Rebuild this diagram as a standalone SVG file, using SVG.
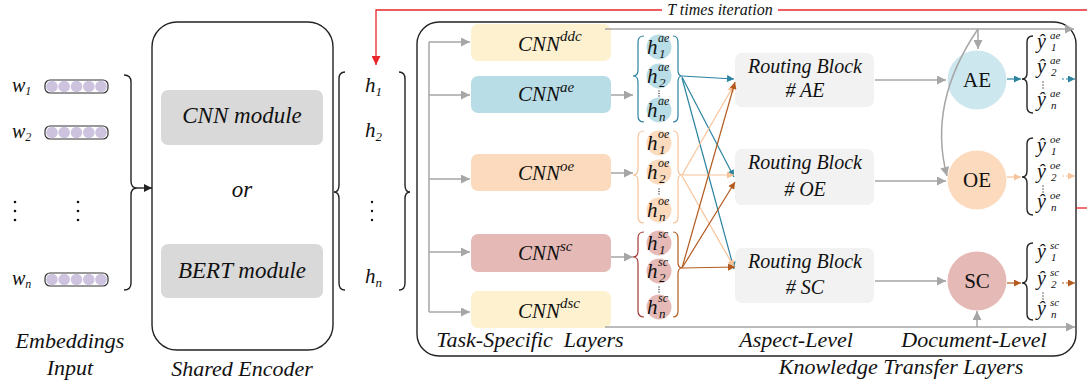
<svg xmlns="http://www.w3.org/2000/svg" width="1087" height="388" viewBox="0 0 1087 388">
<style>
.it{font-family:"Liberation Serif","Times New Roman",Times,"DejaVu Serif","Noto Serif",serif;font-style:italic;fill:#111}
.rm{font-family:"Liberation Serif","Times New Roman",Times,"DejaVu Serif","Noto Serif",serif;fill:#111}
.g{stroke:#a6a6a6;stroke-width:1.5;fill:none}
.tl{stroke:#2b83a0;stroke-width:1.2;fill:none}
.pc{stroke:#f7c39a;stroke-width:1.2;fill:none}
.br{stroke:#b35a1f;stroke-width:1.2;fill:none}
.blk{stroke:#222;stroke-width:1.4;fill:none}
.vec{fill:#fff;stroke:#333;stroke-width:1.2}
.dot{fill:#cdc3df}
.ys{font-size:11px}
</style>
<defs>
<marker id="ag" viewBox="0 0 10 10" refX="10" refY="5" markerWidth="11" markerHeight="9" markerUnits="userSpaceOnUse" orient="auto"><path d="M0,0 L10,5 L0,10 z" fill="#a6a6a6"/></marker>
<marker id="at" viewBox="0 0 10 10" refX="10" refY="5" markerWidth="8" markerHeight="7" markerUnits="userSpaceOnUse" orient="auto"><path d="M0,0 L10,5 L0,10 z" fill="#2b83a0"/></marker>
<marker id="ap" viewBox="0 0 10 10" refX="10" refY="5" markerWidth="8" markerHeight="7" markerUnits="userSpaceOnUse" orient="auto"><path d="M0,0 L10,5 L0,10 z" fill="#f7c39a"/></marker>
<marker id="ab" viewBox="0 0 10 10" refX="10" refY="5" markerWidth="8" markerHeight="7" markerUnits="userSpaceOnUse" orient="auto"><path d="M0,0 L10,5 L0,10 z" fill="#b35a1f"/></marker>
<marker id="ar" viewBox="0 0 10 10" refX="10" refY="5" markerWidth="9" markerHeight="9" markerUnits="userSpaceOnUse" orient="auto"><path d="M0,0 L10,5 L0,10 z" fill="#e8262a"/></marker>
<marker id="ak" viewBox="0 0 10 10" refX="10" refY="5" markerWidth="9" markerHeight="8" markerUnits="userSpaceOnUse" orient="auto"><path d="M0,0 L10,5 L0,10 z" fill="#222"/></marker>
<g id="vecdef">
<rect class="vec" x="0" y="0" width="63" height="13" rx="5"/>
<circle class="dot" cx="7" cy="6.5" r="5.8"/><circle class="dot" cx="19.2" cy="6.5" r="5.8"/><circle class="dot" cx="31.5" cy="6.5" r="5.8"/><circle class="dot" cx="43.8" cy="6.5" r="5.8"/><circle class="dot" cx="56" cy="6.5" r="5.8"/>
</g>
</defs>
<rect width="1087" height="388" fill="#fff"/>

<g id="embeddings">
<text class="it" x="12" y="92" font-size="20">w<tspan font-size="12" dy="3">1</tspan></text>
<text class="it" x="12" y="138" font-size="20">w<tspan font-size="12" dy="3">2</tspan></text>
<text class="it" x="12" y="285" font-size="20">w<tspan font-size="12" dy="3">n</tspan></text>
<use href="#vecdef" x="45" y="80"/>
<use href="#vecdef" x="45" y="126"/>
<use href="#vecdef" x="45" y="273"/>
<g fill="#111"><circle cx="15" cy="202" r="1.3"/><circle cx="15" cy="211" r="1.3"/><circle cx="15" cy="220" r="1.3"/>
<circle cx="78" cy="202" r="1.3"/><circle cx="78" cy="211" r="1.3"/><circle cx="78" cy="220" r="1.3"/></g>
<path class="blk" d="M124,75 Q131,75 131,82 L131,181 Q131,188 137,188 Q131,188 131,195 L131,283 Q131,290 124,290"/>
<text class="it" x="70" y="348" font-size="22" text-anchor="middle">Embeddings</text>
<text class="it" x="70" y="375" font-size="22" text-anchor="middle">Input</text>
</g>

<g id="shared-encoder">
<rect x="152" y="22" width="181" height="328" rx="25" fill="none" stroke="#222" stroke-width="1.4"/>
<rect x="161" y="90" width="162" height="55" rx="7" fill="#d9d9d9"/>
<text class="it" x="242" y="123" font-size="23" text-anchor="middle">CNN module</text>
<text class="it" x="242" y="197" font-size="23" text-anchor="middle">or</text>
<rect x="161" y="244" width="162" height="54" rx="7" fill="#d9d9d9"/>
<text class="it" x="242" y="278" font-size="23" text-anchor="middle">BERT module</text>
<text class="it" x="242" y="376" font-size="22" text-anchor="middle">Shared Encoder</text>
</g>

<g id="hidden">
<path class="blk" d="M345,72 Q339,72 339,79 L339,185 Q339,192 334,192 Q339,192 339,199 L339,283 Q339,290 345,290"/>
<path class="blk" d="M399,72 Q405,72 405,79 L405,185 Q405,192 410,192 Q405,192 405,199 L405,283 Q405,290 399,290"/>
<text class="it" x="365" y="92" font-size="21">h<tspan font-size="13" dy="4">1</tspan></text>
<text class="it" x="365" y="137" font-size="21">h<tspan font-size="13" dy="4">2</tspan></text>
<text class="it" x="365" y="283" font-size="21">h<tspan font-size="13" dy="4">n</tspan></text>
<g fill="#111"><circle cx="372" cy="202" r="1.2"/><circle cx="372" cy="211" r="1.2"/><circle cx="372" cy="220" r="1.2"/></g>
</g>

<g id="kt-box">
<rect x="417" y="22" width="659" height="334" rx="22" fill="none" stroke="#222" stroke-width="1.4"/>
<text class="it" x="530" y="347" font-size="22" text-anchor="middle" xml:space="preserve">Task-Specific  Layers</text>
<text class="it" x="796" y="347" font-size="22" text-anchor="middle">Aspect-Level</text>
<text class="it" x="974" y="347" font-size="22" text-anchor="middle">Document-Level</text>
<text class="it" x="901" y="374" font-size="22" text-anchor="middle">Knowledge Transfer Layers</text>
</g>

<g id="cnn-ddc"><rect x="471" y="24" width="140" height="37" rx="7" fill="#fdf1cf"/>
<text class="it" x="518" y="51" font-size="21">CNN<tspan font-size="15" dy="-10">ddc</tspan></text></g>
<g id="cnn-ae"><rect x="471" y="76" width="140" height="37" rx="7" fill="#b9dde6"/>
<text class="it" x="518" y="101" font-size="21">CNN<tspan font-size="15" dy="-9">ae</tspan></text></g>
<g id="cnn-oe"><rect x="471" y="154" width="140" height="37" rx="7" fill="#fbdabd"/>
<text class="it" x="518" y="180" font-size="21">CNN<tspan font-size="15" dy="-9">oe</tspan></text></g>
<g id="cnn-sc"><rect x="471" y="234" width="140" height="38" rx="7" fill="#e5b9b6"/>
<text class="it" x="518" y="260" font-size="21">CNN<tspan font-size="15" dy="-9">sc</tspan></text></g>
<g id="cnn-dsc"><rect x="471" y="291" width="140" height="37" rx="7" fill="#fdf1cf"/>
<text class="it" x="518" y="318" font-size="21">CNN<tspan font-size="15" dy="-10">dsc</tspan></text></g>

<g id="h-ae">
<path class="tl" d="M644,36 Q638,36 638,42 L638,70 Q638,76 633,76 Q638,76 638,82 L638,116 Q638,122 644,122"/>
<path class="tl" d="M673,36 Q678,36 678,42 L678,70 Q678,76 682,76 Q678,76 678,82 L678,116 Q678,122 673,122"/>
<circle cx="659" cy="47" r="12.5" fill="#b9dde6"/><circle cx="659" cy="76" r="12.5" fill="#b9dde6"/><circle cx="659" cy="110" r="12.5" fill="#b9dde6"/>
<text class="it" x="647" y="54" font-size="21">h</text><text class="it" x="658" y="42" font-size="12">ae</text><text class="it" x="659" y="58" font-size="13">1</text>
<text class="it" x="647" y="83" font-size="21">h</text><text class="it" x="658" y="71" font-size="12">ae</text><text class="it" x="659" y="87" font-size="13">2</text>
<text class="it" x="647" y="117" font-size="21">h</text><text class="it" x="658" y="105" font-size="12">ae</text><text class="it" x="659" y="121" font-size="13">n</text>
<g fill="#333"><circle cx="659" cy="91" r="0.7"/><circle cx="659" cy="93.5" r="0.7"/><circle cx="659" cy="96" r="0.7"/></g>
</g>
<g id="h-oe">
<path class="pc" d="M644,131 Q638,131 638,137 L638,169 Q638,175 633,175 Q638,175 638,181 L638,217 Q638,223 644,223"/>
<path class="pc" d="M673,131 Q678,131 678,137 L678,169 Q678,175 682,175 Q678,175 678,181 L678,217 Q678,223 673,223"/>
<circle cx="659" cy="143" r="12.5" fill="#fbdabd"/><circle cx="659" cy="172" r="12.5" fill="#fbdabd"/><circle cx="659" cy="210" r="12.5" fill="#fbdabd"/>
<text class="it" x="647" y="150" font-size="21">h</text><text class="it" x="658" y="138" font-size="12">oe</text><text class="it" x="659" y="154" font-size="13">1</text>
<text class="it" x="647" y="179" font-size="21">h</text><text class="it" x="658" y="167" font-size="12">oe</text><text class="it" x="659" y="183" font-size="13">2</text>
<text class="it" x="647" y="217" font-size="21">h</text><text class="it" x="658" y="205" font-size="12">oe</text><text class="it" x="659" y="221" font-size="13">n</text>
<g fill="#333"><circle cx="659" cy="189" r="0.7"/><circle cx="659" cy="191.5" r="0.7"/><circle cx="659" cy="194" r="0.7"/></g>
</g>
<g id="h-sc">
<path d="M644,232 Q638,232 638,238 L638,251 Q638,257 633,257 Q638,257 638,263 L638,311 Q638,317 644,317" fill="none" stroke="#a23a35" stroke-width="1.2"/>
<path class="br" d="M673,232 Q678,232 678,238 L678,262 Q678,268 682,268 Q678,268 678,274 L678,311 Q678,317 673,317"/>
<circle cx="659" cy="243" r="12.5" fill="#e5b9b6"/><circle cx="659" cy="271" r="12.5" fill="#e5b9b6"/><circle cx="659" cy="307" r="12.5" fill="#e5b9b6"/>
<text class="it" x="647" y="250" font-size="21">h</text><text class="it" x="658" y="238" font-size="12">sc</text><text class="it" x="659" y="254" font-size="13">1</text>
<text class="it" x="647" y="278" font-size="21">h</text><text class="it" x="658" y="266" font-size="12">sc</text><text class="it" x="659" y="282" font-size="13">2</text>
<text class="it" x="647" y="314" font-size="21">h</text><text class="it" x="658" y="302" font-size="12">sc</text><text class="it" x="659" y="318" font-size="13">n</text>
<g fill="#333"><circle cx="659" cy="287" r="0.7"/><circle cx="659" cy="289.5" r="0.7"/><circle cx="659" cy="292" r="0.7"/></g>
</g>

<g id="rb-ae"><rect x="735" y="53" width="139" height="54" rx="7" fill="#f2f2f2"/>
<text class="it" x="805" y="73" font-size="20" text-anchor="middle">Routing Block</text>
<text class="it" x="805" y="97" font-size="20" text-anchor="middle"># AE</text></g>
<g id="rb-oe"><rect x="735" y="149" width="139" height="56" rx="7" fill="#f2f2f2"/>
<text class="it" x="805" y="169" font-size="20" text-anchor="middle">Routing Block</text>
<text class="it" x="805" y="196" font-size="20" text-anchor="middle"># OE</text></g>
<g id="rb-sc"><rect x="735" y="248" width="139" height="55" rx="7" fill="#f2f2f2"/>
<text class="it" x="805" y="268" font-size="20" text-anchor="middle">Routing Block</text>
<text class="it" x="805" y="294" font-size="20" text-anchor="middle"># SC</text></g>

<g id="ae"><circle cx="977" cy="80" r="29.5" fill="#cde7ef"/><text class="rm" x="977" y="87" font-size="21" text-anchor="middle">AE</text></g>
<g id="oe"><circle cx="977" cy="180" r="29.5" fill="#fbdabd"/><text class="rm" x="977" y="187" font-size="21" text-anchor="middle">OE</text></g>
<g id="sc"><circle cx="977" cy="281" r="29.5" fill="#e5b9b6"/><text class="rm" x="977" y="288" font-size="21" text-anchor="middle">SC</text></g>

<g id="out-ae">
<path class="blk" d="M1033,36 Q1027,36 1027,42 L1027,73 Q1027,79 1022,79 Q1027,79 1027,85 L1027,107 Q1027,113 1033,113"/>
<text class="it" x="1037" y="48" font-size="20">ŷ</text><text class="it ys" x="1050" y="39">ae</text><text class="it ys" x="1051" y="51">1</text>
<text class="it" x="1037" y="73" font-size="20">ŷ</text><text class="it ys" x="1050" y="64">ae</text><text class="it ys" x="1051" y="76">2</text>
<text class="it" x="1037" y="106" font-size="20">ŷ</text><text class="it ys" x="1050" y="97">ae</text><text class="it ys" x="1051" y="109">n</text>
<g fill="#333"><circle cx="1043" cy="82" r="0.7"/><circle cx="1043" cy="85" r="0.7"/><circle cx="1043" cy="88" r="0.7"/></g>
</g>
<g id="out-oe">
<path class="blk" d="M1033,138 Q1027,138 1027,144 L1027,171 Q1027,177 1022,177 Q1027,177 1027,183 L1027,209 Q1027,215 1033,215"/>
<text class="it" x="1037" y="152" font-size="20">ŷ</text><text class="it ys" x="1050" y="143">oe</text><text class="it ys" x="1051" y="155">1</text>
<text class="it" x="1037" y="178" font-size="20">ŷ</text><text class="it ys" x="1050" y="169">oe</text><text class="it ys" x="1051" y="181">2</text>
<text class="it" x="1037" y="208" font-size="20">ŷ</text><text class="it ys" x="1050" y="199">oe</text><text class="it ys" x="1051" y="211">n</text>
<g fill="#333"><circle cx="1043" cy="186" r="0.7"/><circle cx="1043" cy="189" r="0.7"/><circle cx="1043" cy="192" r="0.7"/></g>
</g>
<g id="out-sc">
<path class="blk" d="M1033,243 Q1027,243 1027,249 L1027,277 Q1027,283 1022,283 Q1027,283 1027,289 L1027,314 Q1027,320 1033,320"/>
<text class="it" x="1037" y="258" font-size="20">ŷ</text><text class="it ys" x="1050" y="249">sc</text><text class="it ys" x="1051" y="261">1</text>
<text class="it" x="1037" y="285" font-size="20">ŷ</text><text class="it ys" x="1050" y="276">sc</text><text class="it ys" x="1051" y="288">2</text>
<text class="it" x="1037" y="315" font-size="20">ŷ</text><text class="it ys" x="1050" y="306">sc</text><text class="it ys" x="1051" y="318">n</text>
<g fill="#333"><circle cx="1043" cy="293" r="0.7"/><circle cx="1043" cy="296" r="0.7"/><circle cx="1043" cy="299" r="0.7"/></g>
</g>

<g id="connectors">
<path d="M1087,10 L778,10" stroke="#e8262a" stroke-width="1.3" fill="none"/>
<path d="M662,10 L376,10 L376,65" stroke="#e8262a" stroke-width="1.3" fill="none" marker-end="url(#ar)"/>
<path d="M1076,208 L1087,208" stroke="#e8262a" stroke-width="1.3" fill="none"/>
<text class="it" x="720" y="15" font-size="16" text-anchor="middle">T times iteration</text>
<path class="blk" d="M137,188 L152,188" marker-end="url(#ak)"/>
<path class="g" d="M429,42 L429,312"/>
<path class="g" d="M429,42 L470,42" marker-end="url(#ag)"/>
<path class="g" d="M429,95 L470,95" marker-end="url(#ag)"/>
<path class="g" d="M429,179 L470,179" marker-end="url(#ag)"/>
<path class="g" d="M429,252 L470,252" marker-end="url(#ag)"/>
<path class="g" d="M429,312 L470,312" marker-end="url(#ag)"/>
<path class="g" d="M611,95 L633,95" marker-end="url(#ag)"/>
<path class="g" d="M611,173 L633,173" marker-end="url(#ag)"/>
<path class="g" d="M611,257 L633,257" marker-end="url(#ag)"/>
<path class="g" d="M605,29 L1074,29" marker-end="url(#ag)"/>
<path class="g" d="M605,327 L1075,327" marker-end="url(#ag)"/>
<path class="g" d="M978,29 L978,49" marker-end="url(#ag)"/>
<path class="g" d="M978,29 C950,70 932,120 947,176" marker-end="url(#ag)"/>
<path class="g" d="M977,327 L977,311" marker-end="url(#ag)"/>
<path class="g" d="M875,80 L946,80" marker-end="url(#ag)"/>
<path class="g" d="M875,181 L946,181" marker-end="url(#ag)"/>
<path class="g" d="M875,281 L946,281" marker-end="url(#ag)"/>
<path class="tl" d="M682,76 L734,79" marker-end="url(#at)"/>
<path class="tl" d="M682,77 L734,177" marker-end="url(#at)"/>
<path class="tl" d="M682,78 L734,269" marker-end="url(#at)"/>
<path class="pc" d="M682,175 L734,85" marker-end="url(#ap)"/>
<path class="pc" d="M682,175 L734,175" marker-end="url(#ap)"/>
<path class="pc" d="M682,176 L734,267" marker-end="url(#ap)"/>
<path class="br" d="M682,268 L735,82" marker-end="url(#ab)"/>
<path class="br" d="M682,268 L735,182" marker-end="url(#ab)"/>
<path class="br" d="M682,268 L735,267" marker-end="url(#ab)"/>
<path class="tl" d="M1007,79 L1021,79" marker-end="url(#at)"/>
<path class="tl" d="M1062,79 L1075,79" stroke-dasharray="2,2" marker-end="url(#at)"/>
<path class="pc" d="M1007,177 L1021,177" marker-end="url(#ap)"/>
<path class="pc" d="M1062,176 L1075,176" stroke-dasharray="2,2" marker-end="url(#ap)"/>
<path class="br" d="M1007,283 L1021,283" marker-end="url(#ab)"/>
<path class="br" d="M1062,283 L1075,283" stroke-dasharray="2,2" marker-end="url(#ab)"/>
</g>
</svg>
